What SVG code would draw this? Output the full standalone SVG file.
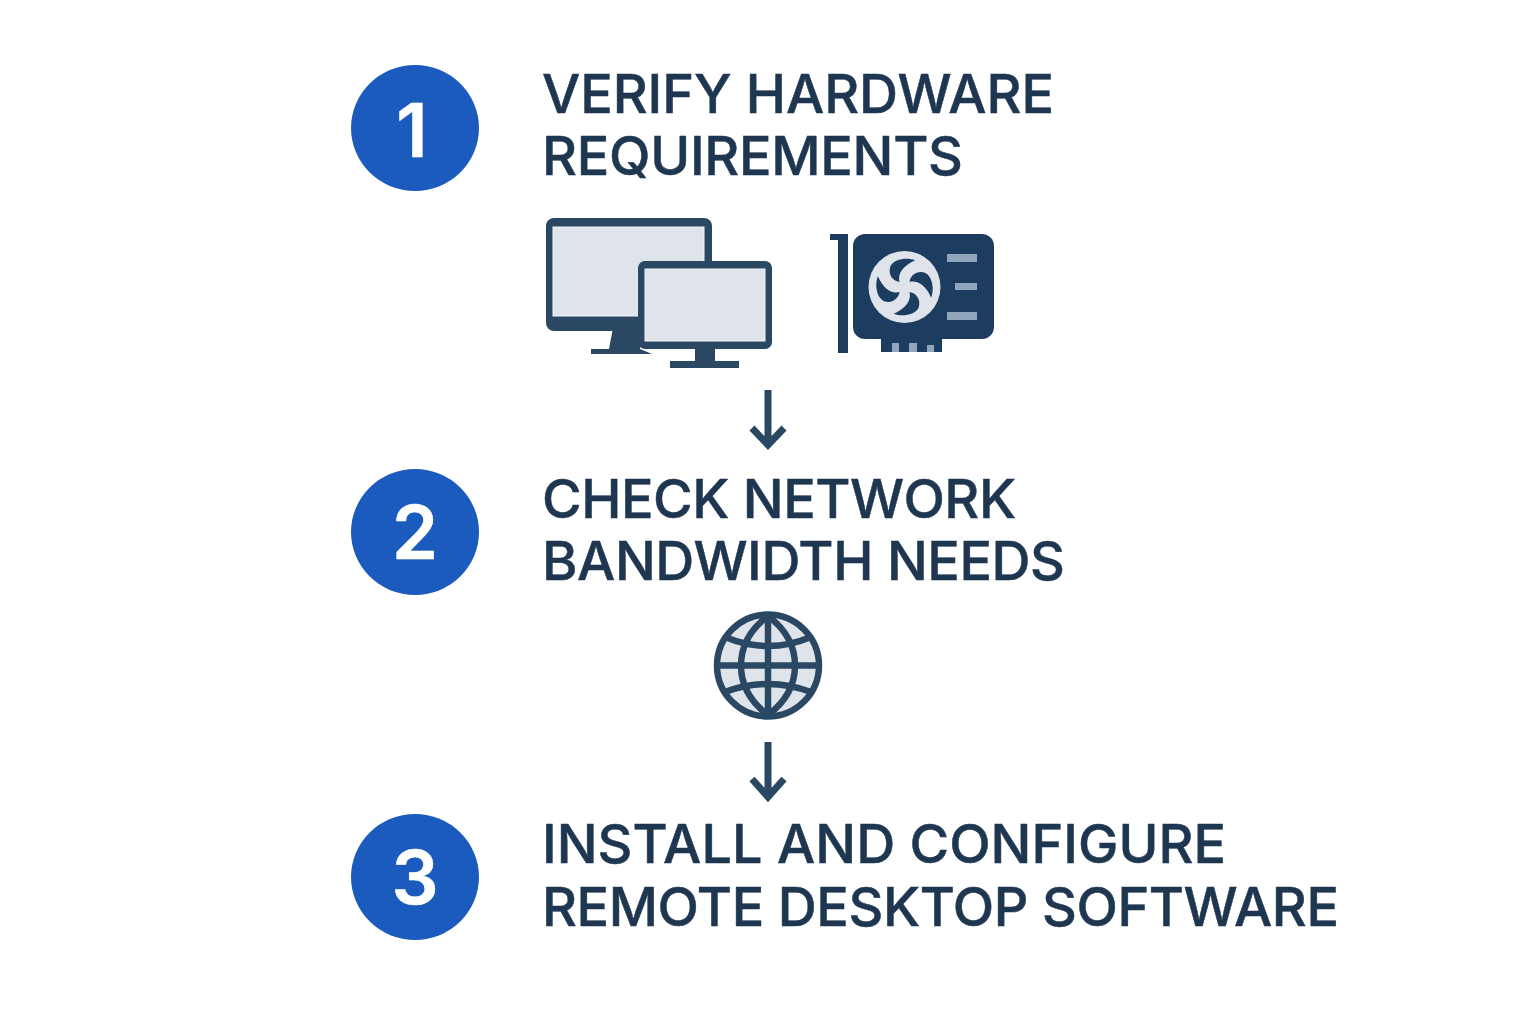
<svg xmlns="http://www.w3.org/2000/svg" width="1536" height="1024" viewBox="0 0 1536 1024">
<style>
.badge{fill:#1a5bbd}
.num{font-family:Inter,"Liberation Sans",sans-serif;font-size:74px;font-weight:600;fill:#fff;stroke:#fff;stroke-width:.6;text-anchor:middle}
.label{font-family:Inter,"Liberation Sans",sans-serif;font-size:54px;font-weight:500;fill:#1e3650;stroke:#1e3650;stroke-width:.5}
.frame{fill:#2a4763}
.screen{fill:#dfe4eb;stroke:#f4f6f8;stroke-width:1}
.card{fill:#1d3d60}
.vent{fill:#8fa6bd}
.arrow{fill:none;stroke:#2a4763;stroke-width:7}
.globe{fill:none;stroke:#2a4763;stroke-width:6.5;stroke-linejoin:round}
</style>
<defs>
<path id="blade" class="card" d="M10.7-26.7C2-30-10-28-14-21C-17-13-12-6-5-5C-7-13-2-21 10.7-26.7Z"/>
</defs>
<rect width="1536" height="1024" fill="#fff"/>
<g id="step1">
<ellipse class="badge" cx="415" cy="128" rx="64" ry="63"/>
<text class="num" x="412" y="157">1</text>
<text class="label" x="542" y="113" textLength="512" lengthAdjust="spacing">VERIFY HARDWARE</text>
<text class="label" x="542" y="175" textLength="421" lengthAdjust="spacing">REQUIREMENTS</text>
</g>
<g id="monitors">
<path class="frame" d="M613 328H640V349L652 354H591V349H609Z"/>
<rect class="frame" x="546" y="218" width="166" height="113" rx="8"/>
<rect class="screen" x="553" y="227" width="151" height="89"/>
<rect class="frame" x="670" y="361" width="69" height="7"/>
<rect class="frame" x="695" y="345" width="20" height="18"/>
<rect class="frame" x="638" y="261" width="134" height="88" rx="7"/>
<rect class="screen" x="645" y="269" width="120" height="72"/>
</g>
<g id="gpu">
<path class="card" d="M830 234H848V353H838V240H830Z"/>
<rect class="card" x="853" y="234" width="141" height="105" rx="12"/>
<rect class="card" x="881" y="336" width="61" height="16"/>
<rect class="vent" x="892" y="343" width="7" height="9"/>
<rect class="vent" x="909" y="343" width="8" height="9"/>
<rect class="vent" x="927" y="345" width="7" height="7"/>
<rect class="vent" x="947" y="254" width="30" height="8"/>
<rect class="vent" x="955" y="283" width="22" height="7"/>
<rect class="vent" x="947" y="312" width="30" height="8"/>
<circle cx="904.5" cy="287" r="36" fill="#dfe4eb"/>
<g transform="translate(904.5 287)">
<use href="#blade"/>
<use href="#blade" transform="rotate(90)"/>
<use href="#blade" transform="rotate(180)"/>
<use href="#blade" transform="rotate(270)"/>
</g>
</g>
<g id="step2">
<ellipse class="badge" cx="415" cy="532" rx="64" ry="63"/>
<text class="num" x="415" y="559">2</text>
<text class="label" x="542" y="518" textLength="474" lengthAdjust="spacing">CHECK NETWORK</text>
<text class="label" x="542" y="580" textLength="523" lengthAdjust="spacing">BANDWIDTH NEEDS</text>
</g>
<g id="globe">
<circle cx="768" cy="665.5" r="52" fill="#dfe4eb"/>
<g class="globe">
<circle cx="768" cy="665.5" r="51"/>
<path d="M768 616C748 631 741 648 741 665.5C741 683 748 700 768 715C788 700 795 683 795 665.5C795 648 788 631 768 616Z"/>
<path d="M768 616V715M719 665.5H817"/>
<path d="M725 637Q768 655 811 637M725 692Q768 676 811 692"/>
</g>
</g>
<g id="step3">
<ellipse class="badge" cx="415" cy="877" rx="64" ry="63"/>
<text class="num" x="415" y="904">3</text>
<text class="label" x="542" y="863" textLength="684" lengthAdjust="spacing">INSTALL AND CONFIGURE</text>
<text class="label" x="542" y="926" textLength="797" lengthAdjust="spacing">REMOTE DESKTOP SOFTWARE</text>
</g>
<g id="connectors">
<path class="arrow" d="M768 390V445M752 428L768 445L784 428"/>
<path class="arrow" d="M768 742V797M752 779L768 797L784 779"/>
</g>
</svg>
